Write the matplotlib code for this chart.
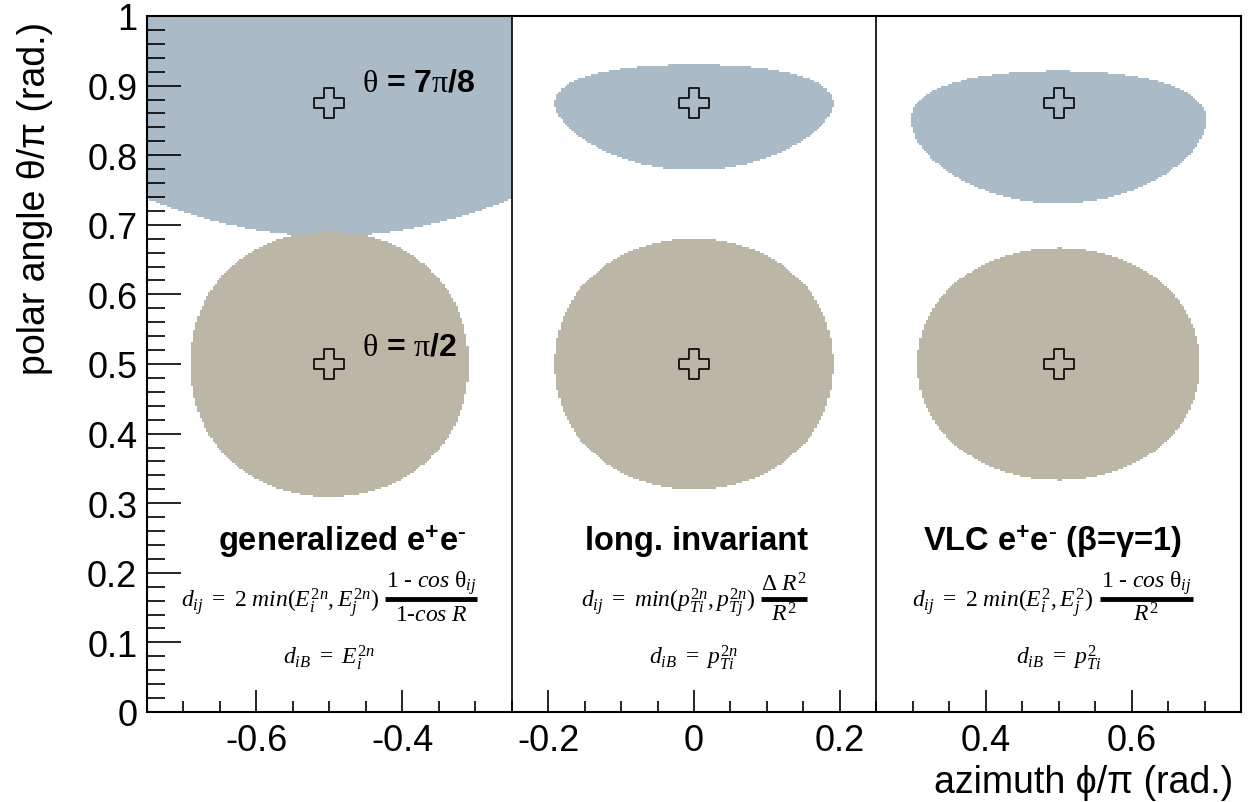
import numpy as np
import matplotlib
matplotlib.use("Agg")
import matplotlib.pyplot as plt
from matplotlib.path import Path
from matplotlib.ticker import MultipleLocator

plt.rcParams["font.family"] = ["Liberation Sans", "DejaVu Sans"]
plt.rcParams["mathtext.fontset"] = "custom"
plt.rcParams["mathtext.rm"] = "Liberation Serif"
plt.rcParams["mathtext.it"] = "Liberation Serif:italic"
plt.rcParams["mathtext.bf"] = "Liberation Sans:bold"

# panels: phi/pi range, jet axis phi/pi, title and distance measure
panel_edges = [-0.75, -0.25, 0.25, 0.75]
panel_phi = [-0.5, 0.0, 0.5]
panel_kind = ["ee", "kt", "vlc"]
panel_titles = [
    r"generalized e$^{\mathbf{+}}$e$^{\mathbf{\text{-}}}$",
    "long. invariant",
    r"VLC e$^{\mathbf{+}}$e$^{\mathbf{\text{-}}}$ (β=γ=1)",
]
dij_text = [
    r"$\mathit{d_{ij}}\ =\ \mathit{2\ min(E_{i}^{2n},E_{j}^{2n})}$",
    r"$\mathit{d_{ij}}\ =\ \mathit{min(p_{Ti}^{2n},p_{Tj}^{2n})}$",
    r"$\mathit{d_{ij}}\ =\ \mathit{2\ min(E_{i}^{2},E_{j}^{2})}$",
]
num_text = [
    r"$\mathit{1\ \text{-}\ cos}\ \mathrm{\theta}_{\mathit{ij}}$",
    r"$\mathrm{\Delta}\ \mathit{R^{2}}$",
    r"$\mathit{1\ \text{-}\ cos}\ \mathrm{\theta}_{\mathit{ij}}$",
]
den_text = [r"$\mathit{1\text{-}cos\ R}$", r"$\mathit{R^{2}}$", r"$\mathit{R^{2}}$"]
dib_text = [
    r"$\mathit{d_{iB}}\ =\ \mathit{E_{i}^{2n}}$",
    r"$\mathit{d_{iB}}\ =\ \mathit{p_{Ti}^{2n}}$",
    r"$\mathit{d_{iB}}\ =\ \mathit{p_{Ti}^{2}}$",
]

# jets: polar angle theta/pi, label, colour
jet_theta = [0.875, 0.5]
jet_labels = [r"$\mathrm{\theta}$ = 7$\mathrm{\pi}$/8", r"$\mathrm{\theta}$ = $\mathrm{\pi}$/2"]
jet_colors = ["#aabac6", "#bbb6a6"]
R = 0.6


def inside(kind, theta, phi, tj, pj):
    cos_d = np.cos(theta) * np.cos(tj) + np.sin(theta) * np.sin(tj) * np.cos(phi - pj)
    if kind == "ee":
        return 1.0 - cos_d < 1.0 - np.cos(R)
    if kind == "kt":
        y = -np.log(np.tan(theta / 2.0))
        yj = -np.log(np.tan(tj / 2.0))
        return (y - yj) ** 2 + (phi - pj) ** 2 < R ** 2
    return 2.0 * (1.0 - cos_d) / R ** 2 < np.sin(theta) ** 2


nx, ny = 500, 350
phi_c = panel_edges[0] + (np.arange(nx) + 0.5) / nx * (panel_edges[-1] - panel_edges[0])
theta_c = (np.arange(ny) + 0.5) / ny
P, T = np.meshgrid(phi_c * np.pi, theta_c * np.pi)
img = np.ones((ny, nx, 3))
for k, kind in enumerate(panel_kind):
    in_panel = (P >= panel_edges[k] * np.pi) & (P < panel_edges[k + 1] * np.pi)
    for tj, col in zip(jet_theta, jet_colors):
        m = in_panel & inside(kind, T, P, tj * np.pi, panel_phi[k] * np.pi)
        img[m] = matplotlib.colors.to_rgb(col)

fig = plt.figure(figsize=(12.51, 8.03), dpi=100)
ax = fig.add_axes([147 / 1251, 90 / 803, 1094 / 1251, 696 / 803])
ax.imshow(img, extent=[panel_edges[0], panel_edges[-1], 0, 1], origin="lower",
          aspect="auto", interpolation="nearest")

for x in panel_edges[1:-1]:
    ax.axvline(x, color="black", lw=1.2)

plus = Path([(-1, -1 / 3), (-1 / 3, -1 / 3), (-1 / 3, -1), (1 / 3, -1), (1 / 3, -1 / 3),
             (1, -1 / 3), (1, 1 / 3), (1 / 3, 1 / 3), (1 / 3, 1), (-1 / 3, 1),
             (-1 / 3, 1 / 3), (-1, 1 / 3), (-1, -1 / 3)], closed=True)
for pj in panel_phi:
    ax.plot([pj] * len(jet_theta), jet_theta, ls="none", marker=plus, ms=21,
            mfc="none", mec="black", mew=1.2)

ax.text(-0.455, 0.905, jet_labels[0], fontsize=23, fontweight="bold", va="center")
ax.text(-0.455, 0.525, jet_labels[1], fontsize=23, fontweight="bold", va="center")

# formula layout, relative to each panel's jet axis
title_shift = [0.018, 0.004, -0.008]
bar_span = [(0.076, 0.203), (0.092, 0.155), (0.056, 0.184)]
for k, pj in enumerate(panel_phi):
    ax.text(pj + title_shift[k], 0.246, panel_titles[k], fontsize=23.5,
            fontweight="bold", ha="center", va="center")
    b0, b1 = bar_span[k]
    ax.text(pj + b0 - 0.008, 0.158, dij_text[k], fontsize=17, ha="right", va="center")
    ax.plot([pj + b0, pj + b1], [0.162, 0.162], color="black", lw=3.5,
            solid_capstyle="butt")
    ax.text(pj + (b0 + b1) / 2, 0.167, num_text[k], fontsize=17, ha="center", va="bottom")
    ax.text(pj + (b0 + b1) / 2, 0.157, den_text[k], fontsize=17, ha="center", va="top")
    ax.text(pj, 0.08, dib_text[k], fontsize=17, ha="center", va="center")

ax.set_xlim(panel_edges[0], panel_edges[-1])
ax.set_ylim(0, 1)
ax.xaxis.set_major_locator(MultipleLocator(0.2))
ax.xaxis.set_minor_locator(MultipleLocator(0.05))
ax.yaxis.set_major_locator(MultipleLocator(0.1))
ax.yaxis.set_minor_locator(MultipleLocator(0.02))
fmt = plt.FuncFormatter(lambda v, p: f"{v:g}" if abs(v) > 1e-9 else "0")
ax.xaxis.set_major_formatter(fmt)
ax.yaxis.set_major_formatter(fmt)
ax.tick_params(axis="x", which="major", direction="in", length=16, width=1.2,
               labelsize=26, pad=8, top=False)
ax.tick_params(axis="x", which="minor", direction="in", length=8, width=1.2, top=False)
ax.tick_params(axis="y", which="major", direction="in", length=24.5, width=1.2,
               labelsize=26, pad=7, right=False)
ax.tick_params(axis="y", which="minor", direction="in", length=13, width=1.2, right=False)
for s in ax.spines.values():
    s.set_linewidth(1.5)

ax.set_ylabel("polar angle θ/π (rad.)", fontsize=27, loc="top")
ax.yaxis.set_label_coords(-0.086, 0.993)
ax.set_xlabel("azimuth ϕ/π (rad.)", fontsize=27, loc="right")
ax.xaxis.set_label_coords(0.993, -0.074)

fig.savefig("out.png", dpi=100)
